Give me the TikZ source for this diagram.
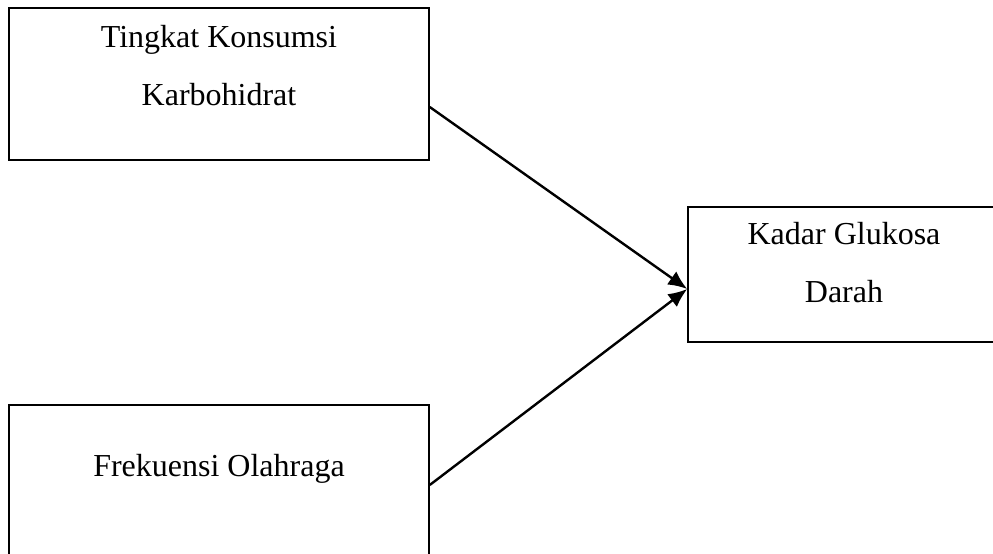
\documentclass[tikz,border=0pt]{standalone}
\usepackage{fontspec}
\setmainfont{Liberation Serif}
\usetikzlibrary{arrows.meta}

\begin{document}
\begin{tikzpicture}[x=0.5pt,y=0.5pt,
  box/.style={draw,line width=0.75pt,inner sep=0pt},
  lbl/.style={font=\fontsize{16}{29}\selectfont,align=center,anchor=base},
  arr/.style={line width=1.2pt,-{Latex[length=9.5pt,width=8pt]}}]
\clip (0,0) rectangle (993,553);
\node[box,minimum width=210pt,minimum height=76pt] (karbo) at (219,469) {};
\node[box,minimum width=156pt,minimum height=67.5pt] (gula) at (844,278.5) {};
\node[box,minimum width=210pt,minimum height=76pt] (olahraga) at (219,72) {};
\node[lbl] (karbotxt) at (219,447) {Tingkat Konsumsi\\Karbohidrat};
\node[lbl] (gulatxt) at (844,250) {Kadar Glukosa\\Darah};
\node[lbl] (olahragatxt) at (219,76) {Frekuensi Olahraga};
\draw[arr] ([yshift=-11.5pt]karbo.east) -- ([yshift=-7.25pt]gula.west);
\draw[arr] ([yshift=-2pt]olahraga.east) -- ([yshift=-7.25pt]gula.west);
\end{tikzpicture}
\end{document}
